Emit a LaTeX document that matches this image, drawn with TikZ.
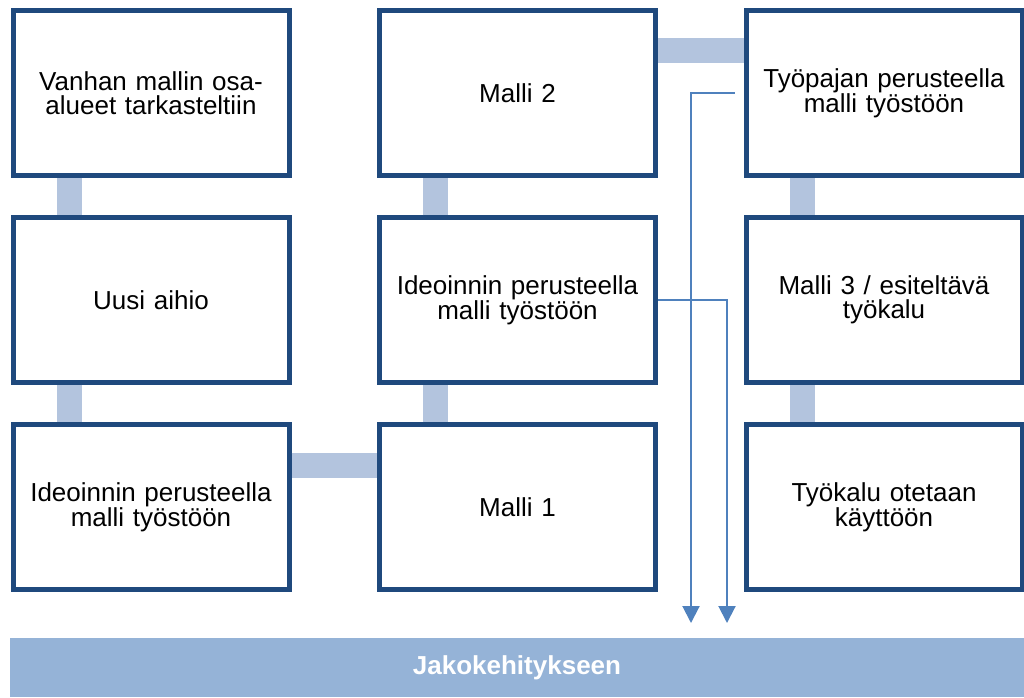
\documentclass[tikz,border=0pt]{standalone}
\usepackage{fontspec}
\setmainfont{Liberation Sans}
\usetikzlibrary{arrows.meta, positioning}

\definecolor{boxline}{HTML}{1F497D}
\definecolor{linkbar}{HTML}{B3C4DE}
\definecolor{basebar}{HTML}{95B3D7}
\definecolor{flow}{HTML}{4F81BD}

\begin{document}
\begin{tikzpicture}[
            x = 1pt, y = 1pt,
            > = {Triangle[length=17pt, width=17pt]}, % arrow head style
            node distance = 207pt and 366.5pt, % between box centres
            on grid,
            semithick % line style
        ]

        \tikzstyle{stepbox}=[
            draw = boxline,
            line width = 5pt,
            fill = white,
            minimum width = 276pt,
            minimum height = 165pt,
            text width = 262pt,
            align = center,
            font = \fontsize{26}{24}\selectfont
        ]
        \tikzstyle{link}=[draw = linkbar, line width = 25pt]
        \tikzstyle{flowline}=[draw = flow, line width = 2pt, ->]

        \useasboundingbox (0,0) rectangle (1024,-697);

        \node[stepbox] (s1) at (151,-93) {Vanhan mallin osa-\\alueet tarkasteltiin};
        \node[stepbox] (s2) [below=of s1] {Uusi aihio};
        \node[stepbox] (s3) [below=of s2] {Ideoinnin perusteella\\malli työstöön};
        \node[stepbox] (s4) [right=of s3] {Malli 1};
        \node[stepbox] (s5) [above=of s4] {Ideoinnin perusteella\\malli työstöön};
        \node[stepbox] (s6) [above=of s5] {Malli 2};
        \node[stepbox] (s7) [right=of s6] {Työpajan perusteella\\malli työstöön};
        \node[stepbox] (s8) [below=of s7] {Malli 3 / esiteltävä\\työkalu};
        \node[stepbox] (s9) [below=of s8] {Työkalu otetaan\\käyttöön};

        \node[fill = basebar, inner sep = 0pt, outer sep = 0pt,
              minimum width = 1014pt, minimum height = 59pt,
              text = white, font = \bfseries\fontsize{26}{26}\selectfont]
              (jako) at (517,-667.5) {Jakokehitykseen};

        \draw[link] ([xshift=-82pt]s1.south) -- ([xshift=-82pt]s2.north);
        \draw[link] ([xshift=-82pt]s2.south) -- ([xshift=-82pt]s3.north);
        \draw[link] ([yshift=42pt]s3.east) -- ([yshift=42pt]s4.west);
        \draw[link] ([xshift=-82pt]s4.north) -- ([xshift=-82pt]s5.south);
        \draw[link] ([xshift=-82pt]s5.north) -- ([xshift=-82pt]s6.south);
        \draw[link] ([yshift=43pt]s6.east) -- ([yshift=43pt]s7.west);
        \draw[link] ([xshift=-82pt]s7.south) -- ([xshift=-82pt]s8.north);
        \draw[link] ([xshift=-82pt]s8.south) -- ([xshift=-82pt]s9.north);

        \coordinate (p1) at ([xshift=-9pt]s7.west);
        \coordinate (e1) at ([xshift=174pt, yshift=15pt]jako.north);
        \coordinate (e2) at ([xshift=210pt, yshift=15pt]jako.north);

        \draw[flowline] (p1) -| (e1);
        \draw[flowline] (s5.east) -| (e2);

    \end{tikzpicture}
\end{document}
